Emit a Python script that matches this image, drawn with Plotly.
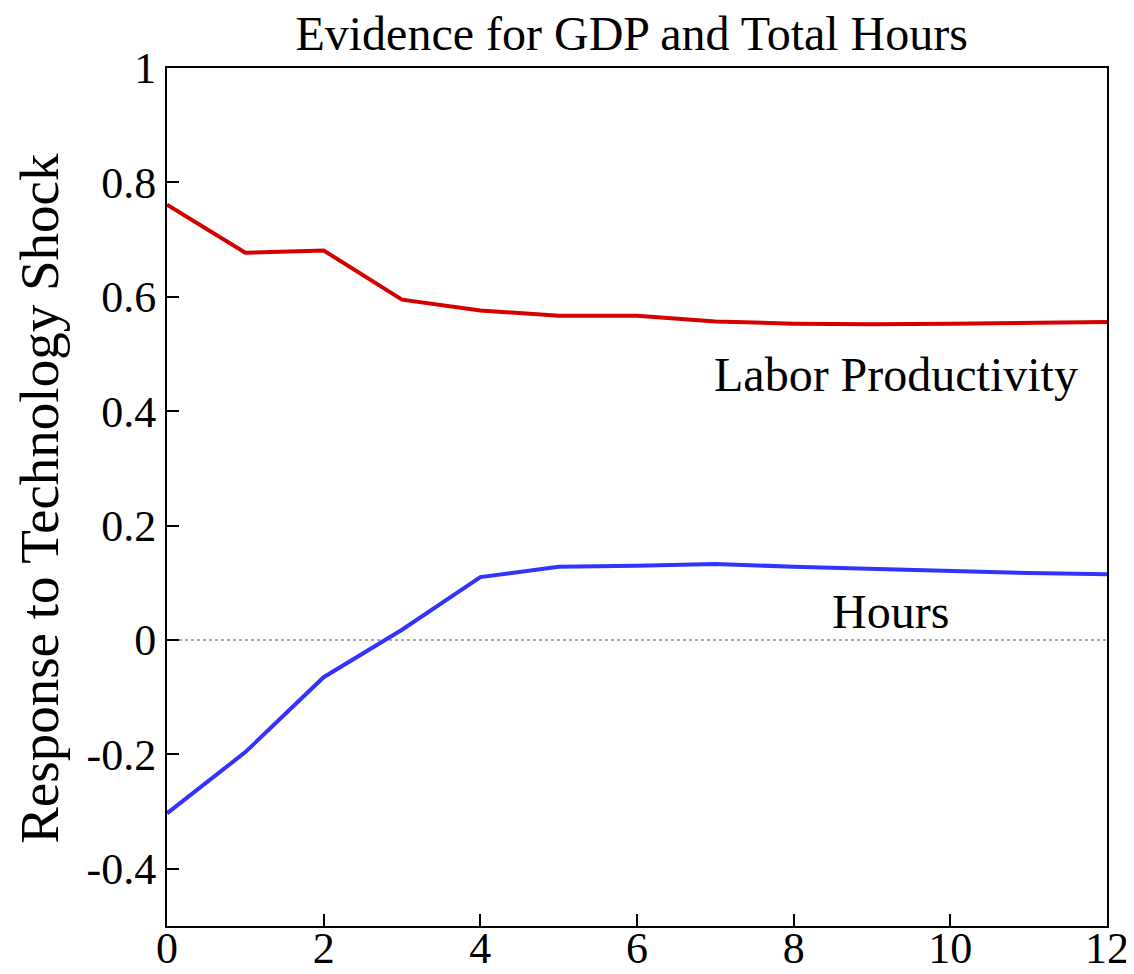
import plotly.graph_objects as go

periods = list(range(13))
labor_productivity = [0.761, 0.677, 0.681, 0.595, 0.576, 0.567, 0.567, 0.557, 0.553, 0.552, 0.553, 0.555, 0.556]
hours = [-0.303, -0.196, -0.065, 0.018, 0.110, 0.128, 0.130, 0.133, 0.128, 0.124, 0.121, 0.117, 0.115]
x_ticks = [0, 2, 4, 6, 8, 10, 12]
y_ticks = [-0.4, -0.2, 0, 0.2, 0.4, 0.6, 0.8, 1]
y_tick_text = ["-0.4", "-0.2", "0", "0.2", "0.4", "0.6", "0.8", "1"]

FONT = "Liberation Serif, Times New Roman, serif"

fig = go.Figure()
fig.add_trace(go.Scatter(x=[0, 12], y=[0, 0], mode="lines",
                         line=dict(color="#555555", width=1, dash="dot"),
                         showlegend=False, hoverinfo="skip"))
fig.add_trace(go.Scatter(x=periods, y=labor_productivity, mode="lines",
                         line=dict(color="#D40000", width=4), name="Labor Productivity",
                         showlegend=False))
fig.add_trace(go.Scatter(x=periods, y=hours, mode="lines",
                         line=dict(color="#3333FF", width=4), name="Hours",
                         showlegend=False))

fig.add_annotation(x=9.31, y=0.464, text="Labor Productivity", showarrow=False,
                   font=dict(family=FONT, size=48, color="black"))
fig.add_annotation(x=9.24, y=0.049, text="Hours", showarrow=False,
                   font=dict(family=FONT, size=48, color="black"))
fig.add_annotation(xref="paper", yref="paper", x=-0.135, y=0.498,
                   xanchor="center", yanchor="middle",
                   text="Response to Technology Shock", textangle=-90, showarrow=False,
                   font=dict(family=FONT, size=55, color="black"))

fig.update_layout(
    width=1134, height=974,
    margin=dict(l=159, r=35, t=60, b=56, autoexpand=False),
    paper_bgcolor="white", plot_bgcolor="white",
    font=dict(family=FONT, size=44, color="black"),
    title=dict(text="Evidence for GDP and Total Hours", x=0.550, xanchor="center",
               y=0.974, yanchor="middle", font=dict(family=FONT, size=48, color="black")),
)
fig.update_xaxes(range=[0, 12], tickvals=x_ticks, ticks="inside", ticklen=12, tickwidth=2,
                 tickcolor="black", showline=True, linecolor="black", linewidth=2,
                 mirror=True, showgrid=False, zeroline=False, automargin=False,
                 ticklabelstandoff=-18,
                 tickfont=dict(family=FONT, size=44, color="black"))
fig.update_yaxes(range=[-0.5, 1], tickvals=y_ticks, ticktext=y_tick_text, ticks="inside",
                 ticklen=12, tickwidth=2, tickcolor="black", showline=True, linecolor="black",
                 linewidth=2, mirror=True, showgrid=False, zeroline=False, automargin=False,
                 tickfont=dict(family=FONT, size=44, color="black"))

fig.write_html("out.html")
